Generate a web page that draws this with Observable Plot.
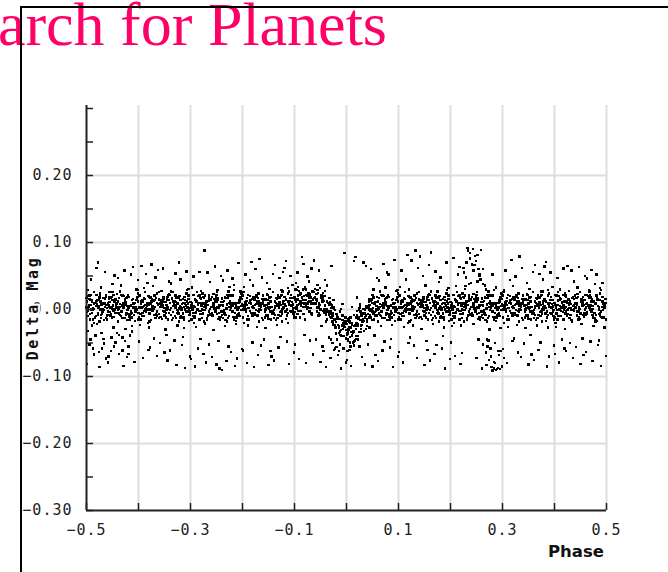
<!DOCTYPE html>
<html>
<head>
<meta charset="utf-8">
<script src="https://cdn.jsdelivr.net/npm/d3@7"></script>
<script src="https://cdn.jsdelivr.net/npm/@observablehq/plot@0.6"></script>
<style>
html,body{margin:0;padding:0;background:#fff;width:668px;height:572px;overflow:hidden;}
#title{position:absolute;right:281px;top:-7px;font-family:"Liberation Serif","Times New Roman",serif;font-size:62px;line-height:62px;color:#ff0066;white-space:nowrap;margin:0;font-weight:normal;}
#frame{position:absolute;left:20px;top:6px;width:700px;height:620px;border-top:2px solid #000;border-left:2px solid #000;}
#chart{position:absolute;left:0;top:0;}
#chart g[aria-label$="tick label"] text{letter-spacing:1px;}
</style>
</head>
<body>
<h1 id="title">Search for Planets</h1>
<div id="frame"></div>
<div id="chart"></div>
<script>
// Phase and Delta Mag readings, stored in thousandths (×0.001)
// dense band points, first set
const corePhase = [
-500,-497,-494,-491,-488,-485,-482,-499,-496,-493,-490,-487,-484,-481,-498,-495,-492,-489,-486,-483,-490,-495,
-478,-473,-468,-463,-480,-475,-470,-465,-461,-476,-471,-466,-479,-474,-469,-464,-477,-472,-467,-462,-473,-467,
-459,-455,-451,-447,-443,-457,-453,-449,-445,-441,-460,-456,-452,-448,-444,-458,-454,-450,-446,-442,-451,-457,
-436,-429,-422,-438,-431,-424,-440,-433,-426,-421,-435,-428,-439,-432,-425,-437,-430,-423,-434,-427,-424,-432,
-417,-412,-407,-402,-414,-419,-409,-404,-411,-416,-406,-401,-420,-413,-408,-403,-418,-415,-410,-405,-409,-414,
-398,-393,-388,-383,-400,-395,-390,-385,-381,-396,-391,-386,-399,-394,-389,-384,-397,-392,-387,-382,-393,-387,
-379,-375,-371,-367,-363,-377,-373,-369,-365,-361,-380,-376,-372,-368,-364,-378,-374,-370,-366,-362,-371,-377,
-356,-349,-342,-358,-351,-344,-360,-353,-346,-341,-355,-348,-359,-352,-345,-357,-350,-343,-354,-347,-344,-352,
-337,-332,-327,-322,-334,-339,-329,-324,-331,-336,-326,-321,-340,-333,-328,-323,-338,-335,-330,-325,-329,-334,
-320,-317,-314,-311,-308,-305,-302,-319,-316,-313,-310,-307,-304,-301,-318,-315,-312,-309,-306,-303,-310,-315,
-299,-295,-291,-287,-283,-297,-293,-289,-285,-281,-300,-296,-292,-288,-284,-298,-294,-290,-286,-282,-291,-297,
-276,-269,-262,-278,-271,-264,-280,-273,-266,-261,-275,-268,-279,-272,-265,-277,-270,-263,-274,-267,-264,-272,
-257,-252,-247,-242,-254,-259,-249,-244,-251,-256,-246,-241,-260,-253,-248,-243,-258,-255,-250,-245,-249,-254,
-240,-237,-234,-231,-228,-225,-222,-239,-236,-233,-230,-227,-224,-221,-238,-235,-232,-229,-226,-223,-230,-235,
-218,-213,-208,-203,-220,-215,-210,-205,-201,-216,-211,-206,-219,-214,-209,-204,-217,-212,-207,-202,-213,-207,
-196,-189,-182,-198,-191,-184,-200,-193,-186,-181,-195,-188,-199,-192,-185,-197,-190,-183,-194,-187,-184,-192,
-177,-172,-167,-162,-174,-179,-169,-164,-171,-176,-166,-161,-180,-173,-168,-163,-178,-175,-170,-165,-169,-174,
-160,-157,-154,-151,-148,-145,-142,-159,-156,-153,-150,-147,-144,-141,-158,-155,-152,-149,-146,-143,-150,-155,
-138,-133,-128,-123,-140,-135,-130,-125,-121,-136,-131,-126,-139,-134,-129,-124,-137,-132,-127,-122,-133,-127,
-119,-115,-111,-107,-103,-117,-113,-109,-105,-101,-120,-116,-112,-108,-104,-118,-114,-110,-106,-102,-111,-117,
-97,-92,-87,-82,-94,-99,-89,-84,-91,-96,-86,-81,-100,-93,-88,-83,-98,-95,-90,-85,-89,-94,
-80,-77,-74,-71,-68,-65,-62,-79,-76,-73,-70,-67,-64,-61,-78,-75,-72,-69,-66,-63,-70,-75,
-58,-53,-48,-43,-60,-55,-50,-45,-41,-56,-51,-46,-59,-54,-49,-44,-57,-52,-47,-42,-53,-47,
-39,-35,-31,-27,-23,-37,-33,-29,-25,-21,-40,-36,-32,-28,-24,-38,-34,-30,-26,-22,-31,-37,
-16,-9,-2,-18,-11,-4,-20,-13,-6,-1,-15,-8,-19,-12,-5,-17,-10,-3,-14,-7,-4,-12,
0,3,6,9,12,15,18,1,4,7,10,13,16,19,2,5,8,11,14,17,10,5,
22,27,32,37,20,25,30,35,39,24,29,34,21,26,31,36,23,28,33,38,27,33,
41,45,49,53,57,43,47,51,55,59,40,44,48,52,56,42,46,50,54,58,49,43,
64,71,78,62,69,76,60,67,74,79,65,72,61,68,75,63,70,77,66,73,76,68,
83,88,93,98,86,81,91,96,89,84,94,99,80,87,92,97,82,85,90,95,91,86,
102,107,112,117,100,105,110,115,119,104,109,114,101,106,111,116,103,108,113,118,107,113,
121,125,129,133,137,123,127,131,135,139,120,124,128,132,136,122,126,130,134,138,129,123,
144,151,158,142,149,156,140,147,154,159,145,152,141,148,155,143,150,157,146,153,156,148,
163,168,173,178,166,161,171,176,169,164,174,179,160,167,172,177,162,165,170,175,171,166,
180,183,186,189,192,195,198,181,184,187,190,193,196,199,182,185,188,191,194,197,190,185,
201,205,209,213,217,203,207,211,215,219,200,204,208,212,216,202,206,210,214,218,209,203,
224,231,238,222,229,236,220,227,234,239,225,232,221,228,235,223,230,237,226,233,236,228,
243,248,253,258,246,241,251,256,249,244,254,259,240,247,252,257,242,245,250,255,251,246,
260,263,266,269,272,275,278,261,264,267,270,273,276,279,262,265,268,271,274,277,270,265,
282,287,292,297,280,285,290,295,299,284,289,294,281,286,291,296,283,288,293,298,287,293,
304,311,318,302,309,316,300,307,314,319,305,312,301,308,315,303,310,317,306,313,316,308,
323,328,333,338,326,321,331,336,329,324,334,339,320,327,332,337,322,325,330,335,331,326,
340,343,346,349,352,355,358,341,344,347,350,353,356,359,342,345,348,351,354,357,350,345,
362,367,372,377,360,365,370,375,379,364,369,374,361,366,371,376,363,368,373,378,367,373,
381,385,389,393,397,383,387,391,395,399,380,384,388,392,396,382,386,390,394,398,389,383,
403,408,413,418,406,401,411,416,409,404,414,419,400,407,412,417,402,405,410,415,411,406,
420,423,426,429,432,435,438,421,424,427,430,433,436,439,422,425,428,431,434,437,430,425,
442,447,452,457,440,445,450,455,459,444,449,454,441,446,451,456,443,448,453,458,447,453,
461,465,469,473,477,463,467,471,475,479,460,464,468,472,476,462,466,470,474,478,469,463,
484,491,498,482,489,496,480,487,494,499,485,492,481,488,495,483,490,497,486,493,496,488
];
const coreMag = [
3,-10,16,0,-15,9,5,-4,20,-7,11,2,-12,13,-2,6,22,-5,1,10,14,7,
-6,12,1,-13,8,18,-2,4,-9,15,9,-16,5,21,-3,10,2,-8,17,7,13,-1,
9,-4,14,-11,2,19,-7,6,0,23,-14,11,4,-2,15,7,-9,1,12,-5,3,16,
-8,6,18,1,-13,10,3,-3,13,-16,8,20,-1,5,11,-6,2,17,-10,9,7,-4,
5,-12,10,19,-3,2,-8,14,8,-15,0,12,21,-5,4,16,-11,6,3,-1,9,-6,
3,-10,16,0,-15,9,5,-4,20,-7,11,2,-12,13,-2,6,22,-5,1,10,14,7,
-6,12,1,-13,8,18,-2,4,-9,15,9,-16,5,21,-3,10,2,-8,17,7,13,-1,
9,-4,14,-11,2,19,-7,6,0,23,-14,11,4,-2,15,7,-9,1,12,-5,3,16,
-8,6,18,1,-13,10,3,-3,13,-16,8,20,-1,5,11,-6,2,17,-10,9,7,-4,
5,-12,10,19,-3,2,-8,14,8,-15,0,12,21,-5,4,16,-11,6,3,-1,9,-6,
3,-10,16,0,-15,9,5,-4,20,-7,11,2,-12,13,-2,6,22,-5,1,10,14,7,
-6,12,1,-13,8,18,-2,4,-9,15,9,-16,5,21,-3,10,2,-8,17,7,13,-1,
9,-4,14,-11,2,19,-7,6,0,23,-14,11,4,-2,15,7,-9,1,12,-5,3,16,
-8,6,18,1,-13,10,3,-3,13,-16,8,20,-1,5,11,-6,2,17,-10,9,7,-4,
5,-12,10,19,-3,2,-8,14,8,-15,0,12,21,-5,4,16,-11,6,3,-1,9,-6,
3,-10,16,0,-15,9,5,-4,20,-7,11,2,-12,13,-2,6,22,-5,1,10,14,7,
-6,12,1,-13,8,18,-2,4,-9,15,9,-16,5,21,-3,10,2,-8,17,7,13,-1,
9,-4,14,-11,2,19,-7,6,0,23,-14,11,4,-2,15,7,-9,1,12,-5,3,16,
-8,6,18,1,-13,10,3,-3,13,-16,8,20,-1,5,11,-6,2,17,-10,9,7,-4,
8,-9,13,22,0,5,-5,17,11,-12,3,15,24,-2,7,19,-8,9,6,2,12,-3,
11,-2,24,8,-7,17,13,4,28,1,19,10,-4,21,6,14,30,3,9,18,22,15,
4,22,11,-3,18,28,8,14,1,25,19,-6,15,31,7,20,12,2,27,17,23,9,
15,2,20,-5,8,25,-1,12,6,29,-8,17,10,4,21,13,-3,7,18,1,9,22,
-18,-4,8,-9,-23,0,-7,-13,3,-26,-2,10,-11,-5,1,-16,-8,7,-20,-1,-3,-14,
-23,-40,-18,-9,-31,-26,-36,-14,-20,-43,-28,-16,-7,-33,-24,-12,-39,-22,-25,-29,-19,-34,
-31,-44,-18,-34,-49,-25,-29,-38,-14,-41,-23,-32,-46,-21,-36,-28,-12,-39,-33,-24,-20,-27,
-22,-4,-15,-29,-8,2,-18,-12,-25,-1,-7,-32,-11,5,-19,-6,-14,-24,1,-9,-3,-17,
5,-8,10,-15,-2,15,-11,2,-4,19,-18,7,0,-6,11,3,-13,-3,8,-9,-1,12,
-8,6,18,1,-13,10,3,-3,13,-16,8,20,-1,5,11,-6,2,17,-10,9,7,-4,
5,-12,10,19,-3,2,-8,14,8,-15,0,12,21,-5,4,16,-11,6,3,-1,9,-6,
3,-10,16,0,-15,9,5,-4,20,-7,11,2,-12,13,-2,6,22,-5,1,10,14,7,
-6,12,1,-13,8,18,-2,4,-9,15,9,-16,5,21,-3,10,2,-8,17,7,13,-1,
9,-4,14,-11,2,19,-7,6,0,23,-14,11,4,-2,15,7,-9,1,12,-5,3,16,
-8,6,18,1,-13,10,3,-3,13,-16,8,20,-1,5,11,-6,2,17,-10,9,7,-4,
5,-12,10,19,-3,2,-8,14,8,-15,0,12,21,-5,4,16,-11,6,3,-1,9,-6,
3,-10,16,0,-15,9,5,-4,20,-7,11,2,-12,13,-2,6,22,-5,1,10,14,7,
-6,12,1,-13,8,18,-2,4,-9,15,9,-16,5,21,-3,10,2,-8,17,7,13,-1,
9,-4,14,-11,2,19,-7,6,0,23,-14,11,4,-2,15,7,-9,1,12,-5,3,16,
-8,6,18,1,-13,10,3,-3,13,-16,8,20,-1,5,11,-6,2,17,-10,9,7,-4,
5,-12,10,19,-3,2,-8,14,8,-15,0,12,21,-5,4,16,-11,6,3,-1,9,-6,
3,-10,16,0,-15,9,5,-4,20,-7,11,2,-12,13,-2,6,22,-5,1,10,14,7,
-6,12,1,-13,8,18,-2,4,-9,15,9,-16,5,21,-3,10,2,-8,17,7,13,-1,
9,-4,14,-11,2,19,-7,6,0,23,-14,11,4,-2,15,7,-9,1,12,-5,3,16,
-8,6,18,1,-13,10,3,-3,13,-16,8,20,-1,5,11,-6,2,17,-10,9,7,-4,
5,-12,10,19,-3,2,-8,14,8,-15,0,12,21,-5,4,16,-11,6,3,-1,9,-6,
3,-10,16,0,-15,9,5,-4,20,-7,11,2,-12,13,-2,6,22,-5,1,10,14,7,
-6,12,1,-13,8,18,-2,4,-9,15,9,-16,5,21,-3,10,2,-8,17,7,13,-1,
9,-4,14,-11,2,19,-7,6,0,23,-14,11,4,-2,15,7,-9,1,12,-5,3,16,
-8,6,18,1,-13,10,3,-3,13,-16,8,20,-1,5,11,-6,2,17,-10,9,7,-4,
5,-12,10,19,-3,2,-8,14,8,-15,0,12,21,-5,4,16,-11,6,3,-1,9,-6
];
// wider band points, second set
const bandPhase = [
-499,-487,-494,-482,-491,-497,-485,-489,-500,-493,-483,-496,-488,-481,-492,-486,
-470,-477,-463,-472,-466,-480,-468,-474,-461,-478,-465,-471,-475,-462,-469,-473,
-442,-451,-456,-448,-459,-445,-453,-457,-450,-443,-460,-447,-454,-444,-452,-458,
-435,-424,-438,-430,-421,-433,-427,-440,-429,-436,-423,-432,-426,-439,-431,-422,
-406,-413,-420,-401,-416,-409,-418,-404,-411,-407,-414,-402,-419,-410,-405,-417,
-395,-384,-398,-390,-381,-393,-387,-400,-389,-396,-383,-392,-386,-399,-391,-382,
-366,-373,-380,-361,-376,-369,-378,-364,-371,-367,-374,-362,-379,-370,-365,-377,
-359,-347,-354,-342,-351,-357,-345,-349,-360,-353,-343,-356,-348,-341,-352,-346,
-330,-337,-323,-332,-326,-340,-328,-334,-321,-338,-325,-331,-335,-322,-329,-333,
-302,-311,-316,-308,-319,-305,-313,-317,-310,-303,-320,-307,-314,-304,-312,-318,
-290,-297,-283,-292,-286,-300,-288,-294,-281,-298,-285,-291,-295,-282,-289,-293,
-262,-271,-276,-268,-279,-265,-273,-277,-270,-263,-280,-267,-274,-264,-272,-278,
-255,-244,-258,-250,-241,-253,-247,-260,-249,-256,-243,-252,-246,-259,-251,-242,
-226,-233,-240,-221,-236,-229,-238,-224,-231,-227,-234,-222,-239,-230,-225,-237,
-219,-207,-214,-202,-211,-217,-205,-209,-220,-213,-203,-216,-208,-201,-212,-206,
-186,-193,-200,-181,-196,-189,-198,-184,-191,-187,-194,-182,-199,-190,-185,-197,
-179,-167,-174,-162,-171,-177,-165,-169,-180,-173,-163,-176,-168,-161,-172,-166,
-150,-157,-143,-152,-146,-160,-148,-154,-141,-158,-145,-151,-155,-142,-149,-153,
-122,-131,-136,-128,-139,-125,-133,-137,-130,-123,-140,-127,-134,-124,-132,-138,
-115,-104,-118,-110,-101,-113,-107,-120,-109,-116,-103,-112,-106,-119,-111,-102,
-82,-91,-96,-88,-99,-85,-93,-97,-90,-83,-100,-87,-94,-84,-92,-98,
-75,-64,-78,-70,-61,-73,-67,-80,-69,-76,-63,-72,-66,-79,-71,-62,
-46,-53,-60,-41,-56,-49,-58,-44,-51,-47,-54,-42,-59,-50,-45,-57,
-39,-27,-34,-22,-31,-37,-25,-29,-40,-33,-23,-36,-28,-21,-32,-26,
-10,-17,-3,-12,-6,-20,-8,-14,-1,-18,-5,-11,-15,-2,-9,-13,
1,13,6,18,9,3,15,11,0,7,17,4,12,19,8,14,
30,23,37,28,34,20,32,26,39,22,35,29,25,38,31,27,
58,49,44,52,41,55,47,43,50,57,40,53,46,56,48,42,
65,76,62,70,79,67,73,60,71,64,77,68,74,61,69,78,
94,87,80,99,84,91,82,96,89,93,86,98,81,90,95,83,
105,116,102,110,119,107,113,100,111,104,117,108,114,101,109,118,
134,127,120,139,124,131,122,136,129,133,126,138,121,130,135,123,
141,153,146,158,149,143,155,151,140,147,157,144,152,159,148,154,
170,163,177,168,174,160,172,166,179,162,175,169,165,178,171,167,
198,189,184,192,181,195,187,183,190,197,180,193,186,196,188,182,
210,203,217,208,214,200,212,206,219,202,215,209,205,218,211,207,
238,229,224,232,221,235,227,223,230,237,220,233,226,236,228,222,
245,256,242,250,259,247,253,240,251,244,257,248,254,241,249,258,
274,267,260,279,264,271,262,276,269,273,266,278,261,270,275,263,
281,293,286,298,289,283,295,291,280,287,297,284,292,299,288,294,
314,307,300,319,304,311,302,316,309,313,306,318,301,310,315,303,
321,333,326,338,329,323,335,331,320,327,337,324,332,339,328,334,
350,343,357,348,354,340,352,346,359,342,355,349,345,358,351,347,
378,369,364,372,361,375,367,363,370,377,360,373,366,376,368,362,
385,396,382,390,399,387,393,380,391,384,397,388,394,381,389,398,
418,409,404,412,401,415,407,403,410,417,400,413,406,416,408,402,
425,436,422,430,439,427,433,420,431,424,437,428,434,421,429,438,
454,447,440,459,444,451,442,456,449,453,446,458,441,450,455,443,
461,473,466,478,469,463,475,471,460,467,477,464,472,479,468,474,
490,483,497,488,494,480,492,486,499,482,495,489,485,498,491,487
];
const bandMag = [
12,0,21,-10,7,2,26,-5,17,-15,10,4,-1,22,14,-20,
-7,5,19,-13,9,14,-1,24,2,-8,16,7,-18,21,10,0,
9,-12,4,22,-3,12,17,-8,26,5,-15,14,2,-5,19,7,
4,-8,17,9,-1,22,-13,12,2,27,-5,7,16,-18,21,5,
-3,14,2,24,-12,9,19,0,10,-17,5,29,-7,16,4,-10,
12,0,21,-10,7,2,26,-5,17,-15,10,4,-1,22,14,-20,
-7,5,19,-13,9,14,-1,24,2,-8,16,7,-18,21,10,0,
9,-12,4,22,-3,12,17,-8,26,5,-15,14,2,-5,19,7,
4,-8,17,9,-1,22,-13,12,2,27,-5,7,16,-18,21,5,
-3,14,2,24,-12,9,19,0,10,-17,5,29,-7,16,4,-10,
12,0,21,-10,7,2,26,-5,17,-15,10,4,-1,22,14,-20,
-7,5,19,-13,9,14,-1,24,2,-8,16,7,-18,21,10,0,
9,-12,4,22,-3,12,17,-8,26,5,-15,14,2,-5,19,7,
4,-8,17,9,-1,22,-13,12,2,27,-5,7,16,-18,21,5,
-3,14,2,24,-12,9,19,0,10,-17,5,29,-7,16,4,-10,
12,0,21,-10,7,2,26,-5,17,-15,10,4,-1,22,14,-20,
-7,5,19,-13,9,14,-1,24,2,-8,16,7,-18,21,10,0,
9,-12,4,22,-3,12,17,-8,26,5,-15,14,2,-5,19,7,
4,-8,17,9,-1,22,-13,12,2,27,-5,7,16,-18,21,5,
0,17,5,27,-9,12,22,3,13,-14,8,32,-4,19,7,-7,
20,8,29,-2,15,10,34,3,25,-7,18,12,7,30,22,-12,
3,15,29,-3,19,24,9,34,12,2,26,17,-8,31,20,10,
15,-6,10,28,3,18,23,-2,32,11,-9,20,8,1,25,13,
-6,-18,7,-1,-11,12,-23,2,-8,17,-15,-3,6,-28,11,-5,
-31,-14,-26,-4,-40,-19,-9,-28,-18,-45,-23,1,-35,-12,-24,-38,
-22,-34,-13,-44,-27,-32,-8,-39,-17,-49,-24,-30,-35,-12,-20,-54,
-23,-11,3,-29,-7,-2,-17,8,-14,-24,0,-9,-34,5,-6,-16,
5,-16,0,18,-7,8,13,-12,22,1,-19,10,-2,-9,15,3,
4,-8,17,9,-1,22,-13,12,2,27,-5,7,16,-18,21,5,
-3,14,2,24,-12,9,19,0,10,-17,5,29,-7,16,4,-10,
12,0,21,-10,7,2,26,-5,17,-15,10,4,-1,22,14,-20,
-7,5,19,-13,9,14,-1,24,2,-8,16,7,-18,21,10,0,
9,-12,4,22,-3,12,17,-8,26,5,-15,14,2,-5,19,7,
4,-8,17,9,-1,22,-13,12,2,27,-5,7,16,-18,21,5,
-3,14,2,24,-12,9,19,0,10,-17,5,29,-7,16,4,-10,
12,0,21,-10,7,2,26,-5,17,-15,10,4,-1,22,14,-20,
-7,5,19,-13,9,14,-1,24,2,-8,16,7,-18,21,10,0,
9,-12,4,22,-3,12,17,-8,26,5,-15,14,2,-5,19,7,
4,-8,17,9,-1,22,-13,12,2,27,-5,7,16,-18,21,5,
-3,14,2,24,-12,9,19,0,10,-17,5,29,-7,16,4,-10,
12,0,21,-10,7,2,26,-5,17,-15,10,4,-1,22,14,-20,
-7,5,19,-13,9,14,-1,24,2,-8,16,7,-18,21,10,0,
9,-12,4,22,-3,12,17,-8,26,5,-15,14,2,-5,19,7,
4,-8,17,9,-1,22,-13,12,2,27,-5,7,16,-18,21,5,
-3,14,2,24,-12,9,19,0,10,-17,5,29,-7,16,4,-10,
12,0,21,-10,7,2,26,-5,17,-15,10,4,-1,22,14,-20,
-7,5,19,-13,9,14,-1,24,2,-8,16,7,-18,21,10,0,
9,-12,4,22,-3,12,17,-8,26,5,-15,14,2,-5,19,7,
4,-8,17,9,-1,22,-13,12,2,27,-5,7,16,-18,21,5,
-3,14,2,24,-12,9,19,0,10,-17,5,29,-7,16,4,-10
];
// scattered points above and below the band
const scatterPhase = [
-497,-489,-483,-494,-486,-499,-491,-481,
-472,-480,-467,-462,-475,-470,-465,-478,
-448,-456,-441,-453,-459,-444,-450,-446,
-434,-425,-438,-429,-422,-431,-440,-427,
-404,-413,-419,-408,-416,-401,-410,-415,
-397,-389,-383,-394,-386,-399,-391,-381,
-372,-380,-367,-362,-375,-370,-365,-378,
-348,-356,-341,-353,-359,-344,-350,-346,
-334,-325,-338,-329,-322,-331,-340,-327,
-304,-313,-319,-308,-316,-301,-310,-315,
-297,-289,-283,-294,-286,-299,-291,-281,
-272,-280,-267,-262,-275,-270,-265,-273,
-248,-256,-241,-253,-259,-244,-250,-246,
-234,-225,-238,-229,-222,-231,-240,-227,
-204,-213,-219,-208,-216,-201,-210,-215,
-197,-189,-183,-194,-186,-199,-191,-181,
-172,-180,-167,-162,-175,-170,-165,-178,
-148,-156,-141,-153,-159,-144,-150,-146,
-134,-125,-138,-129,-122,-131,-140,-127,
-104,-113,-119,-108,-116,-101,-110,-115,
-97,-89,-83,-94,-86,-99,-91,-81,
-72,-80,-67,-62,-75,-70,-65,-78,
-48,-56,-41,-53,-59,-44,-50,-46,
-34,-25,-38,-29,-22,-31,-40,-27,
-4,-13,-19,-8,-16,-1,-10,-15,
3,11,17,6,14,1,9,19,
28,20,33,38,25,30,35,22,
52,44,59,47,41,56,50,54,
66,75,62,71,78,69,60,73,
96,87,81,92,84,99,90,85,
103,111,117,106,114,101,109,119,
128,120,133,138,125,130,135,122,
152,144,159,147,141,156,150,154,
166,175,162,171,178,169,160,173,
196,187,181,192,184,199,190,185,
203,211,217,206,214,201,209,219,
228,220,233,238,225,230,235,222,
252,244,259,247,241,256,250,254,
266,275,262,271,278,269,260,273,
296,287,281,292,284,299,290,285,
303,311,317,306,314,301,309,319,
328,320,333,338,325,330,335,322,
352,344,359,347,341,356,350,354,
366,375,362,371,378,369,360,373,
396,387,381,392,384,399,390,385,
403,411,417,406,414,401,409,419,
428,420,433,438,425,430,435,422,
452,444,459,447,441,456,450,454,
466,475,462,471,478,469,460,473,
496,487,481,492,484,499,490,485,
226,231,237,243,249,254,258,262,234,246,240,252,229,256,244,268,
262,268,274,279,284,288,291,295,299,303,277,286,293,281,270,297,
-498,-492,-487,-483,-476,-471,-466,-458,-452,-447,-437,-431,-426,-419,-412,
-30,-24,-12,-6,2,8,14,22
];
const scatterMag = [
29,-24,-38,-52,-67,-81,45,62,
33,-22,-44,-73,-86,-58,56,70,
-27,26,-35,-62,-79,-49,38,51,
36,-29,-66,-84,-71,-42,47,58,
30,-25,-55,-78,-39,44,63,52,
-23,32,40,65,53,-48,-72,-60,
35,-27,48,59,67,-43,-69,-57,
-30,28,42,61,-50,-76,-64,-38,
26,-24,39,54,70,-46,-61,-83,
31,-28,45,57,-53,-70,-87,-41,
33,-26,56,49,-58,-74,-85,-44,
-21,28,55,41,-66,-79,-52,88,
29,-31,50,64,-71,-88,-82,-47,
-25,34,43,58,-63,-77,-90,-55,
27,-22,46,69,37,-59,-73,-84,
34,-24,71,52,44,-61,-80,-49,
-26,36,75,48,60,-68,-54,-86,
31,-28,53,40,-45,-70,-83,-62,
-23,29,66,47,56,-57,-76,-41,
37,-20,62,50,72,-64,-81,-48,
40,-12,68,55,78,-52,-74,-38,
42,-15,61,73,49,-46,-67,-80,
-25,37,44,58,-45,-62,-78,-55,
-42,14,36,65,-58,-72,-86,-50,
84,-2,-56,8,-68,-79,-88,-62,
-47,4,78,-60,72,-75,-84,-40,
-34,18,70,65,-55,-71,-82,-45,
30,-27,47,60,-52,-68,-85,-39,
-25,33,43,68,55,-61,-77,-48,
28,-23,52,74,-57,-70,-86,-44,
34,-26,81,58,45,-63,-79,-50,
-24,30,88,62,73,-54,-72,-42,
36,-29,66,50,79,-60,-83,-47,
-22,27,85,57,41,-66,-76,-53,
32,-27,48,70,-58,-74,-88,-40,
-25,35,63,77,52,-49,-69,-81,
31,-24,92,76,62,48,38,-65,
42,-22,89,80,67,53,-72,-45,
36,-30,60,-55,-70,-83,-88,-46,
-28,33,52,-62,-78,-86,-89,-50,
29,-26,74,58,44,-59,-80,-47,
-23,35,79,62,49,-64,-71,-43,
31,-28,56,40,-51,-67,-82,-38,
-24,27,66,53,45,-60,-75,-49,
34,-27,64,55,71,-54,-70,-85,
-26,30,61,47,-45,-66,-79,-58,
28,-29,58,42,65,-50,-72,-62,
-22,33,50,63,-56,-68,-81,-43,
29,-25,46,59,38,-48,-63,-77,
-27,32,52,40,-53,-69,-84,-46,
55,70,84,90,72,60,45,38,88,66,40,81,35,50,58,30,
-52,-64,-75,-86,-88,-90,-87,-89,-84,-72,-58,-80,-68,-91,-45,-62,
-32,-45,-58,-40,-63,-35,-51,-70,-42,-55,-38,-61,-47,-66,-33,
-45,-60,-52,-58,-62,-55,-48,-40
];

// axis values
const xTickValues = [-0.5,-0.4,-0.3,-0.2,-0.1,0,0.1,0.2,0.3,0.4,0.5];
const xLabelValues = [-0.5,-0.3,-0.1,0.1,0.3,0.5];
const xGridValues = [-0.4,-0.3,-0.2,-0.1,0,0.1,0.2,0.3,0.4,0.5];
const yTickValues = [-0.3,-0.25,-0.2,-0.15,-0.1,-0.05,0,0.05,0.1,0.15,0.2,0.25,0.3];
const yLabelValues = [-0.3,-0.2,-0.1,0,0.1,0.2];
const yGridValues = [-0.2,-0.1,0,0.1,0.2];
const xLabel = "Phase";
const yLabel = "Delta Mag";

const points = [];
corePhase.forEach((p, i) => points.push({phase: p / 1000, mag: coreMag[i] / 1000}));
bandPhase.forEach((p, i) => points.push({phase: p / 1000, mag: bandMag[i] / 1000}));
scatterPhase.forEach((p, i) => points.push({phase: p / 1000, mag: scatterMag[i] / 1000}));

const chart = Plot.plot({
  width: 668,
  height: 572,
  marginLeft: 86,
  marginRight: 62,
  marginTop: 108,
  marginBottom: 62,
  x: {domain: [-0.5, 0.5], axis: null},
  y: {domain: [-0.3, 0.3], axis: null},
  style: {background: "transparent", fontFamily: "'DejaVu Sans Mono', monospace", fontSize: "15px", color: "#222", overflow: "visible"},
  marks: [
    Plot.gridX(xGridValues, {stroke: "#dedede", strokeOpacity: 1, strokeWidth: 2, insetTop: -3}),
    Plot.gridY(yGridValues, {stroke: "#dedede", strokeOpacity: 1, strokeWidth: 2}),
    Plot.dot(points, {x: "phase", y: "mag", symbol: "square", r: 1.35, fill: "#000", stroke: null, shapeRendering: "crispEdges"}),
    Plot.ruleX([-0.5], {stroke: "#222", strokeWidth: 2, insetTop: -3}),
    Plot.ruleY([-0.3], {stroke: "#222", strokeWidth: 2}),
    Plot.axisX(xTickValues, {anchor: "bottom", tickSize: -7, strokeWidth: 1.5, stroke: "#222", tickFormat: () => "", label: null}),
    Plot.axisX(xLabelValues, {anchor: "bottom", tickSize: 0, tickPadding: 14, tickFormat: d3.format(".1f"), fill: "#222", label: null}),
    Plot.axisY(yTickValues, {anchor: "left", tickSize: -7, strokeWidth: 1.5, stroke: "#222", tickFormat: () => "", label: null}),
    Plot.axisY(yLabelValues, {anchor: "left", tickSize: 0, tickPadding: 14, tickFormat: d3.format(".2f"), fill: "#222", label: null})
  ]
});

const svg = d3.select(chart);
svg.append("text")
  .attr("transform", "translate(38,308) rotate(-90)")
  .attr("text-anchor", "middle")
  .attr("font-family", "'DejaVu Sans Mono', monospace")
  .attr("font-weight", "bold")
  .attr("font-size", 15)
  .attr("letter-spacing", 2.6)
  .attr("fill", "#111")
  .attr("stroke", "#fff")
  .attr("stroke-width", 4)
  .attr("paint-order", "stroke")
  .text(yLabel);
svg.append("text")
  .attr("x", 604)
  .attr("y", 557)
  .attr("text-anchor", "end")
  .attr("font-family", "'DejaVu Sans', sans-serif")
  .attr("font-weight", "bold")
  .attr("font-size", 16.5)
  .attr("fill", "#111")
  .text(xLabel);

document.getElementById("chart").appendChild(chart);
</script>
</body>
</html>
